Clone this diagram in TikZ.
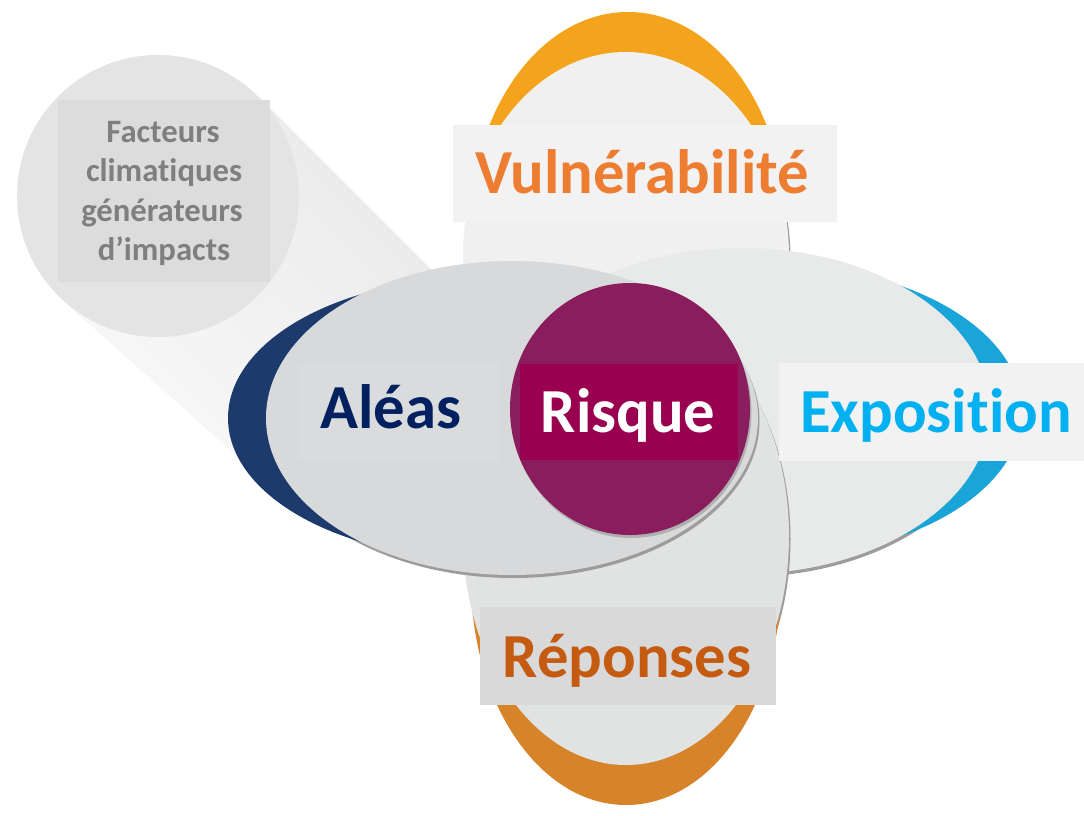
\documentclass[tikz,border=0pt]{standalone}
\usepackage{fontspec}
\setmainfont{Carlito}[Ligatures=NoCommon]
\definecolor{navy}{HTML}{1C3A6B}
\definecolor{aleatxt}{HTML}{002060}
\definecolor{cyanc}{HTML}{19A5D8}
\definecolor{expotxt}{HTML}{00B0F0}
\definecolor{ambre}{HTML}{F4A31C}
\definecolor{vulntxt}{HTML}{ED7D31}
\definecolor{rouille}{HTML}{D7832A}
\definecolor{repotxt}{HTML}{C55A11}
\definecolor{risquefill}{HTML}{8A1D5E}
\definecolor{risquebox}{HTML}{990050}
\definecolor{ombre}{HTML}{9C9C9C}
\definecolor{petalA}{HTML}{D8D9DA}
\definecolor{petalE}{HTML}{E8E9E9}
\definecolor{petalR}{HTML}{E1E2E2}
\definecolor{petalV}{HTML}{F0F0F0}
\definecolor{labelbg}{HTML}{F2F2F2}
\definecolor{labelgrey}{HTML}{D9D9D9}
\definecolor{aleabox}{HTML}{DADBDC}
\definecolor{factbox}{HTML}{DCDCDC}
\definecolor{facttxt}{HTML}{7F7F7F}
\definecolor{disc}{HTML}{E4E4E4}
\definecolor{trailA}{HTML}{EAEAEA}
\definecolor{trailB}{HTML}{F8F8F8}
\begin{document}
\begin{tikzpicture}[x=0.75pt,y=-0.75pt,
  biglabel/.style={font=\bfseries\fontsize{47}{50}\selectfont, inner sep=0pt, anchor=base},
  smalllabel/.style={font=\bfseries\fontsize{24.5}{30}\selectfont, text=facttxt, inner sep=0pt, anchor=base}
]
\useasboundingbox (0,0) rectangle (1084,815);
\fill[white] (0,0) rectangle (1084,815);

% climate-factor disc and its fading trail toward the hazard petal
\shade[top color=trailA, bottom color=trailB, shading angle=-45]
  (258,96) -- (436,274) -- (246,464) -- (58,296) -- cycle;
\fill[disc] (158,196) circle [radius=141];

% top petal: vulnerability
\fill[ombre] (627.5,259) ellipse [x radius=163, y radius=204];
\fill[ambre] (628,230) ellipse [x radius=158, y radius=218];
\fill[petalV] (626,256) ellipse [x radius=163, y radius=204];

% right petal: exposure
\fill[ombre] (743.5,414) ellipse [x radius=248, y radius=163];
\fill[cyanc] (772,411) ellipse [x radius=250, y radius=146];
\fill[petalE] (742,411) ellipse [x radius=248, y radius=163];

% bottom petal: responses
\fill[ombre] (627.5,539) ellipse [x radius=163, y radius=229];
\fill[rouille] (626,580) ellipse [x radius=155, y radius=225];
\fill[petalR] (626,536) ellipse [x radius=163, y radius=229];

% left petal: hazards
\fill[ombre] (513.5,421) ellipse [x radius=246, y radius=157];
\fill[navy] (478,418) ellipse [x radius=250, y radius=140];
\fill[petalA] (512,418) ellipse [x radius=246, y radius=157];

% centre: risk
\fill[ombre!80] (631.5,412) ellipse [x radius=120, y radius=126];
\fill[risquefill] (630,409) ellipse [x radius=120, y radius=126];

% label plates
\fill[aleabox] (298,363) rectangle (500,461);
\fill[risquebox] (520,364) rectangle (738,460);
\fill[labelbg] (779,363) rectangle (1084,461);
\fill[labelbg] (453,125) rectangle (837,222);
\fill[labelgrey] (480,607) rectangle (776,705);
\fill[factbox] (58,100) rectangle (270,282);

% labels
\node[biglabel, text=vulntxt] (vuln) at (642,193) {Vulnérabilité};
\node[biglabel, text=expotxt] (expo) at (936,432) {Exposition};
\node[biglabel, text=aleatxt] (alea) at (391,428) {Aléas};
\node[biglabel, text=white] (risque) at (628,432) {Risque};
\node[biglabel, text=repotxt] (repo) at (627,677) {Réponses};

\node[smalllabel] (f1) at (163,142) {Facteurs};
\node[smalllabel] (f2) at (164,181) {climatiques};
\node[smalllabel] (f3) at (162,221) {générateurs};
\node[smalllabel] (f4) at (164,260) {d’impacts};
\end{tikzpicture}
\end{document}
